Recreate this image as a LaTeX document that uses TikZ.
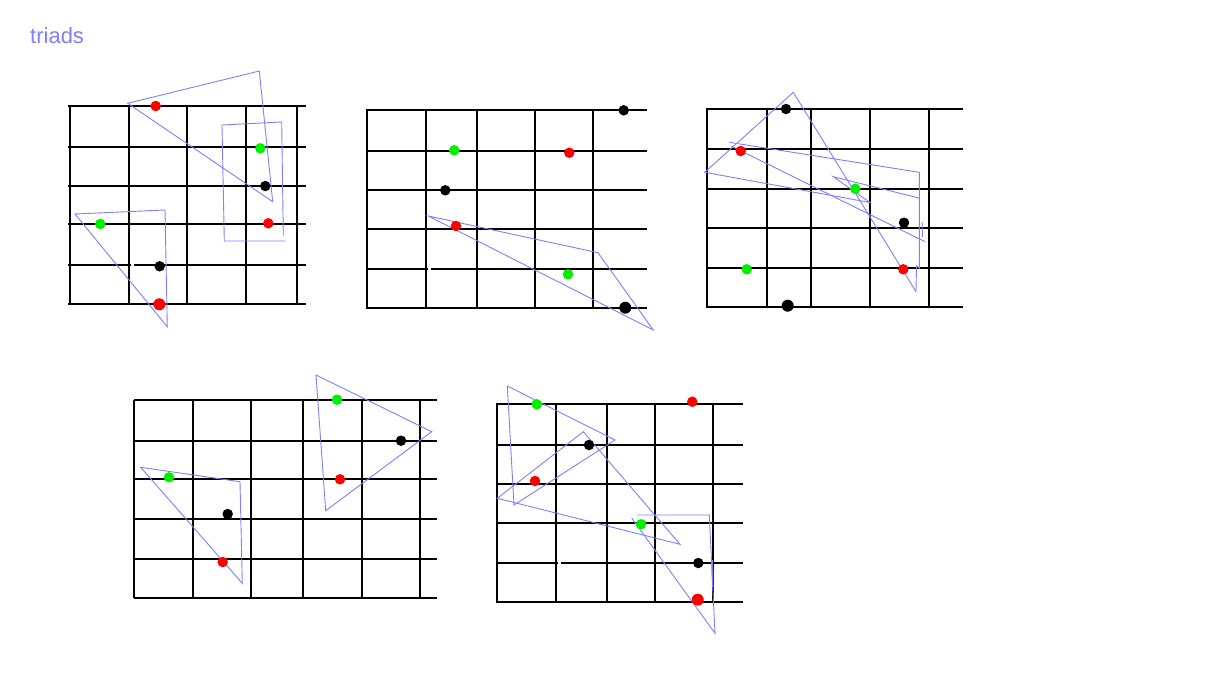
\documentclass[tikz,border=0pt]{standalone}
\usepackage{fontspec}
\setmainfont{Liberation Sans}
\definecolor{tri}{RGB}{128,128,255}
\definecolor{dred}{RGB}{255,0,0}
\definecolor{dgreen}{RGB}{0,240,0}
\tikzset{
  gline/.style={black,line width=2pt},
  tline/.style={tri,line width=0.9pt,line join=miter},
  dot/.style={circle,inner sep=0pt,minimum size=10.5pt,fill=#1,draw=none},
  bigdot/.style={circle,inner sep=0pt,minimum size=12pt,fill=#1,draw=none},
  gap/.style={white,line width=3pt}
}
\begin{document}
\begin{tikzpicture}[x=1pt,y=-1pt]
\useasboundingbox (0,0) rectangle (1213,675);
\fill[white] (0,0) rectangle (1213,675);
\node[anchor=base west,text=tri,font=\fontsize{22}{24}\selectfont,inner sep=0pt] (title) at (30,43) {triads};

% ---------- grid 1
\foreach \yy in {106,147,186,224,265,304} {\draw[gline] (68,\yy) -- (306,\yy);}
\foreach \xx in {70,129,187,246,297} {\draw[gline] (\xx,106) -- (\xx,304);}
\draw[gap] (130.5,265) -- (134,265);
% ---------- grid 2
\foreach \yy in {110,151,190,229,269,308} {\draw[gline] (366,\yy) -- (647,\yy);}
\foreach \xx in {367,426,477,535,593} {\draw[gline] (\xx,110) -- (\xx,308);}
\draw[gap] (427.5,269) -- (431,269);
% ---------- grid 3
\foreach \yy in {109,149,189,228,268,307} {\draw[gline] (706,\yy) -- (963,\yy);}
\foreach \xx in {707,767,811,870,929} {\draw[gline] (\xx,109) -- (\xx,307);}
% ---------- grid 4
\foreach \yy in {400,441,479,519,559,598} {\draw[gline] (134,\yy) -- (437,\yy);}
\foreach \xx in {134,193,251,303,362,420} {\draw[gline] (\xx,400) -- (\xx,598);}
% ---------- grid 5
\foreach \yy in {404,445,484,523,563,602} {\draw[gline] (496,\yy) -- (743,\yy);}
\foreach \xx in {497,556,607,655,713} {\draw[gline] (\xx,404) -- (\xx,602);}
\draw[gap] (557.5,563) -- (560.7,563);

% ---------- blue shapes, grid 1
\draw[tline] (127.7,103.3) -- (259.3,71) -- (272.7,201.7) -- cycle;
\draw[tline] (283.3,235.7) -- (281.7,122) -- (222,125) -- (224.3,241) -- (285,241);
\draw[tline] (75,214) -- (165,210) -- (167.3,326.7) -- cycle;
% grid 2
\draw[tline] (428.3,216) -- (598,252.7) -- (653.3,330) -- cycle;
% grid 3
\draw[tline] (916,291.7) -- (793.3,92.3) -- (704.7,172.3) -- (870,202.5) -- (833.3,176.7) -- (920,198.3);
\draw[tline] (731,146) -- (925,241.7);
\draw[tline] (729.3,142.3) -- (919.3,172.3) -- (919.3,268) -- (916.5,266) -- (916,291.7);
\draw[tline] (922,222) -- (922.5,237);
% grid 4
\draw[tline] (316,375) -- (431.7,431.7) -- (325.7,510.7) -- cycle;
\draw[tline] (140.7,467.3) -- (240,481.7) -- (242.3,583.3) -- cycle;
% grid 5
\draw[tline] (507.3,386) -- (615,440) -- (514,505) -- cycle;
\draw[tline] (583.3,431.7) -- (497.3,498.3) -- (680,544.3) -- cycle;
\draw[tline] (636.7,515) -- (709.3,515) -- (715,633.3) -- (631.7,518);
\draw[tri,line width=1.6pt] (712.3,560) -- (712.7,587);

% ---------- dots, grid 1
\node[dot=dred]   (a1) at (155.7,106) {};
\node[dot=dgreen] (a2) at (260.3,148.3) {};
\node[dot=black]  (a3) at (265.3,186) {};
\node[dot=dred]   (a4) at (268.3,223.3) {};
\node[dot=dgreen] (a5) at (100.3,224) {};
\node[dot=black]  (a6) at (159.7,266.3) {};
\node[bigdot=dred] (a7) at (159.3,304.3) {};
% grid 2
\node[dot=black]  (b1) at (623.7,110.3) {};
\node[dot=dgreen] (b2) at (454.3,150.3) {};
\node[dot=dred]   (b3) at (569.3,152.7) {};
\node[dot=black]  (b4) at (445.3,190.3) {};
\node[dot=dred]   (b5) at (456,226) {};
\node[dot=dgreen] (b6) at (568,274.3) {};
\node[bigdot=black] (b7) at (625.3,307.7) {};
% grid 3
\node[dot=black]  (c1) at (786,109) {};
\node[dot=dred]   (c2) at (740.7,151) {};
\node[dot=dgreen] (c3) at (855.3,188.7) {};
\node[dot=black]  (c4) at (904,222.7) {};
\node[dot=dgreen] (c5) at (746.7,269.3) {};
\node[dot=dred]   (c6) at (903.3,269.3) {};
\node[bigdot=black] (c7) at (787.7,305.7) {};
% grid 4
\node[dot=dgreen] (d1) at (337,399.7) {};
\node[dot=black]  (d2) at (401,440.7) {};
\node[dot=dred]   (d3) at (340,479.3) {};
\node[dot=dgreen] (d4) at (169,477.3) {};
\node[dot=black]  (d5) at (227.7,514) {};
\node[dot=dred]   (d6) at (222.7,562) {};
% grid 5
\node[dot=dgreen] (e1) at (536.7,404.3) {};
\node[dot=dred]   (e2) at (692.3,401.7) {};
\node[dot=black]  (e3) at (589,445) {};
\node[dot=dred]   (e4) at (535,481) {};
\node[dot=dgreen] (e5) at (641,524.3) {};
\node[dot=black]  (e6) at (698.3,563) {};
\node[bigdot=dred] (e7) at (697.7,599.7) {};
\end{tikzpicture}
\end{document}
